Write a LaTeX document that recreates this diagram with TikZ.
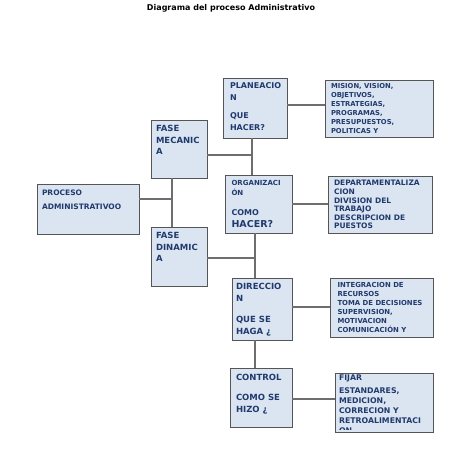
\documentclass[tikz,border=0pt]{standalone}
\usepackage{fontspec}
\setmainfont{DejaVu Sans}
\definecolor{relleno}{RGB}{219,229,241}
\definecolor{borde}{RGB}{85,85,85}
\definecolor{conector}{RGB}{110,110,110}
\definecolor{tinta}{RGB}{33,58,110}
\tikzset{
  caja/.style={draw=borde, fill=relleno, line width=0.9pt, inner sep=0pt, outer sep=0pt, anchor=north west},
  texto/.style={draw=none, fill=none, minimum width=0pt, minimum height=0pt, anchor=north west, inner sep=0pt, align=left, text=tinta},
  rotulo/.style n args={3}{path picture={
    \clip (path picture bounding box.north west) rectangle ([yshift=2.5pt]path picture bounding box.south east);
    \node[texto,font=#1] at ([shift={#2}]path picture bounding box.north west) {#3};}},
  linea/.style={draw=conector, line width=1.2pt}
}
\begin{document}
\begin{tikzpicture}[x=1pt,y=-1pt]
\useasboundingbox (0,0) rectangle (474,450);
\node[font=\bfseries\fontsize{8}{10}\selectfont] (titulo) at (231,8) {Diagrama del proceso Administrativo};

% primer nivel
\node[caja, minimum width=102pt, minimum height=50pt,
  rotulo={\bfseries\fontsize{7.5}{14}\selectfont}{(5pt,-5.5pt)}{PROCESO\\ADMINISTRATIVOO}] (proceso) at (37,184) {};

% fases
\node[caja, minimum width=56pt, minimum height=58pt,
  rotulo={\bfseries\fontsize{8.5}{11.7}\selectfont}{(5pt,-5pt)}{FASE\\MECANIC\\A}] (mecanica) at (151,120) {};
\node[caja, minimum width=56pt, minimum height=59pt,
  rotulo={\bfseries\fontsize{8.5}{11.7}\selectfont}{(5pt,-5pt)}{FASE\\DINAMIC\\A}] (dinamica) at (151,227) {};

% etapas
\node[caja, minimum width=64pt, minimum height=60pt,
  rotulo={\bfseries\fontsize{8}{11.5}\selectfont}{(7pt,-5pt)}{PLANEACIO\\N\\[7pt]QUE\\HACER?}] (planeacion) at (223,78) {};
\node[caja, minimum width=67pt, minimum height=58pt,
  rotulo={\bfseries\fontsize{7}{9.4}\selectfont}{(6.5pt,-5.5pt)}{ORGANIZACI\\ÓN\\[11pt]\fontsize{8}{9.4}\selectfont COMO\\[2.5pt]\fontsize{9.5}{9.4}\selectfont HACER?}] (organizacion) at (225,175) {};
\node[caja, minimum width=60pt, minimum height=62pt,
  rotulo={\bfseries\fontsize{8.5}{11.7}\selectfont}{(4pt,-5pt)}{DIRECCIO\\N\\[9.6pt]QUE SE\\HAGA ¿}] (direccion) at (232,278) {};
\node[caja, minimum width=62pt, minimum height=59pt,
  rotulo={\bfseries\fontsize{8.5}{12}\selectfont}{(6pt,-6pt)}{CONTROL\\[7.7pt]COMO SE\\HIZO ¿}] (control) at (230,368) {};

% detalles
\node[caja, minimum width=108pt, minimum height=57pt,
  rotulo={\bfseries\fontsize{6.8}{8.9}\selectfont}{(6pt,-3.5pt)}{MISION, VISION,\\OBJETIVOS,\\ESTRATEGIAS,\\PROGRAMAS,\\PRESUPUESTOS,\\POLITICAS Y}] (mision) at (325,80) {};
\node[caja, minimum width=104pt, minimum height=57pt,
  rotulo={\bfseries\fontsize{7.5}{8.6}\selectfont}{(6pt,-4.5pt)}{DEPARTAMENTALIZA\\CION\\DIVISION DEL\\TRABAJO\\DESCRIPCION DE\\PUESTOS}] (departamentos) at (328,176) {};
\node[caja, minimum width=103pt, minimum height=59pt,
  rotulo={\bfseries\fontsize{6.9}{8.9}\selectfont}{(7.5pt,-4.5pt)}{INTEGRACION DE\\RECURSOS\\TOMA DE DECISIONES\\SUPERVISION,\\MOTIVACION\\COMUNICACIÓN Y\\LIDERAZGO}] (integracion) at (330,278) {};
\node[caja, minimum width=98pt, minimum height=59pt,
  rotulo={\bfseries\fontsize{7.8}{10}\selectfont}{(4pt,-2pt)}{FIJAR\\[2.7pt]ESTANDARES,\\MEDICION,\\CORRECION Y\\RETROALIMENTACI\\ON}] (fijar) at (335,373) {};

% conectores
\coordinate (j1) at (172,199);
\coordinate (j2) at (252,155);
\coordinate (j3) at (255,258);
\draw[linea] (proceso.east |- j1) -- (j1);
\draw[linea] (mecanica.south -| j1) -- (dinamica.north -| j1);
\draw[linea] (mecanica.east |- j2) -- (j2);
\draw[linea] (planeacion.south -| j2) -- (organizacion.north -| j2);
\draw[linea] (dinamica.east |- j3) -- (j3);
\draw[linea] (organizacion.south -| j3) -- (direccion.north -| j3);
\draw[linea] (direccion.south -| j3) -- (control.north -| j3);
\draw[linea] ([yshift=3pt]planeacion.east) -- ([yshift=3pt]planeacion.east -| mision.west);
\draw[linea] (organizacion.east) -- (organizacion.east -| departamentos.west);
\draw[linea] ([yshift=2pt]direccion.east) -- ([yshift=2pt]direccion.east -| integracion.west);
\draw[linea] ([yshift=-1.5pt]control.east) -- ([yshift=-1.5pt]control.east -| fijar.west);
\end{tikzpicture}
\end{document}
